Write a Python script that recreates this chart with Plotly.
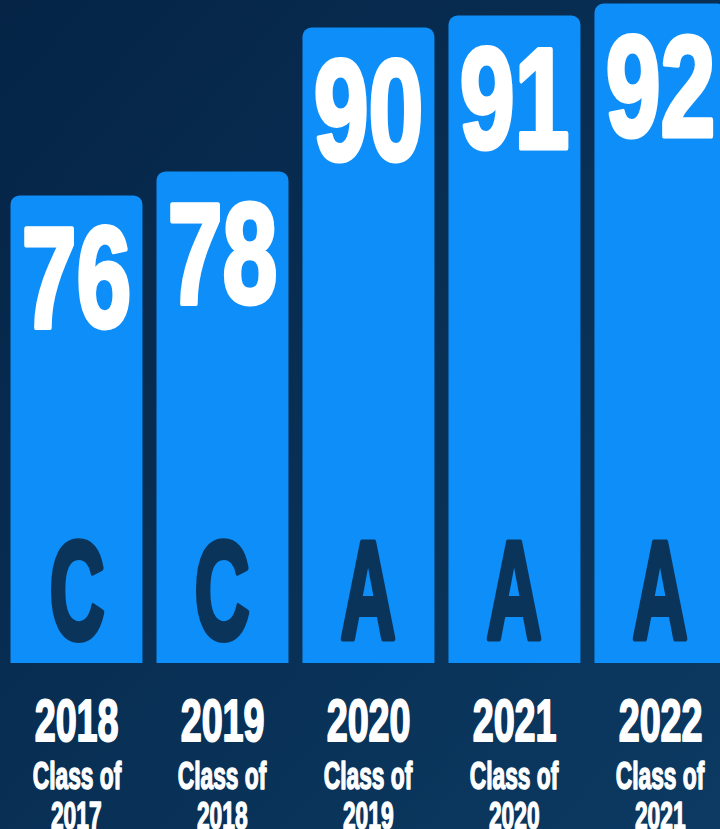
import json
import plotly.graph_objects as go

years = ["2018", "2019", "2020", "2021", "2022"]
class_years = ["2017", "2018", "2019", "2020", "2021"]
scores = [76, 78, 90, 91, 92]
grades = ["C", "C", "A", "A", "A"]

BAR = "#0E8EF8"
DARK = "#0A345A"
FONT = "Liberation Sans, Arial, sans-serif"

xs = list(range(len(years)))
fig = go.Figure()
fig.add_trace(go.Bar(x=xs, y=scores, width=0.904,
                     marker=dict(color=BAR, line=dict(width=0), cornerradius=9),
                     hoverinfo="skip"))

ann = []
styles = []  # (scaleX, stroke width) per annotation
for i in xs:
    ann.append(dict(x=i, y=scores[i], xref="x", yref="y", text=f"<b>{scores[i]}</b>",
                    showarrow=False, yanchor="top", yshift=-1,
                    font=dict(family=FONT, size=143, color="white")))
    styles.append([0.69, 5, "white"])
    ann.append(dict(x=i, y=0, xref="x", yref="paper", text=f"<b>{grades[i]}</b>",
                    showarrow=False, yanchor="bottom", yshift=-7,
                    font=dict(family=FONT, size=139, color=DARK)))
    styles.append([0.55, 6, DARK])
    ann.append(dict(x=i, y=0, xref="x", yref="paper", text=f"<b>{years[i]}</b>",
                    showarrow=False, yanchor="top", yshift=-23,
                    font=dict(family=FONT, size=59, color="white")))
    styles.append([0.64, 2, "white"])
    ann.append(dict(x=i, y=0, xref="x", yref="paper", text="<b>Class of</b>",
                    showarrow=False, yanchor="top", yshift=-90,
                    font=dict(family=FONT, size=38, color="white")))
    styles.append([0.60, 1.5, "white"])
    ann.append(dict(x=i, y=0, xref="x", yref="paper", text=f"<b>{class_years[i]}</b>",
                    showarrow=False, yanchor="top", yshift=-130,
                    font=dict(family=FONT, size=38, color="white")))
    styles.append([0.60, 1.5, "white"])

svg = ("data:image/svg+xml;utf8,<svg xmlns='http://www.w3.org/2000/svg' width='720' height='829'>"
       "<defs><linearGradient id='g' x1='0' y1='0' x2='1' y2='1'>"
       "<stop offset='0' stop-color='%23052446'/><stop offset='1' stop-color='%230C3A62'/>"
       "</linearGradient></defs><rect width='720' height='829' fill='url(%23g)'/></svg>")

fig.update_layout(
    width=720, height=829,
    margin=dict(l=0, r=0, t=0, b=166),
    paper_bgcolor="#082E55", plot_bgcolor="rgba(0,0,0,0)",
    showlegend=False,
    xaxis=dict(range=[-0.524, 4.408], visible=False, fixedrange=True),
    yaxis=dict(range=[37.0, 92.3], visible=False, fixedrange=True),
    annotations=ann,
    images=[dict(source=svg, xref="paper", yref="paper", x=0, y=1, sizex=1, sizey=829 / 663,
                 xanchor="left", yanchor="top", sizing="stretch", layer="below")],
)

post = """
document.body.style.margin='0';
var gd=document.getElementById('{plot_id}');
var S=%s;
function sq(){
  gd.querySelectorAll('g.annotation').forEach(function(g){
    var i=+g.getAttribute('data-index');
    var t=g.querySelector('text.annotation-text');
    if(t && S[i]){
      t.style.transformBox='fill-box';
      t.style.transformOrigin='center';
      t.style.transform='scaleX('+S[i][0]+')';
      t.style.stroke=S[i][2];
      t.style.strokeWidth=S[i][1]+'px';
      t.style.strokeLinejoin='round';
    }
  });
}
sq();
gd.on('plotly_afterplot', sq);
""" % json.dumps(styles)

fig.write_html("out.html", config={"displayModeBar": False}, post_script=post)
